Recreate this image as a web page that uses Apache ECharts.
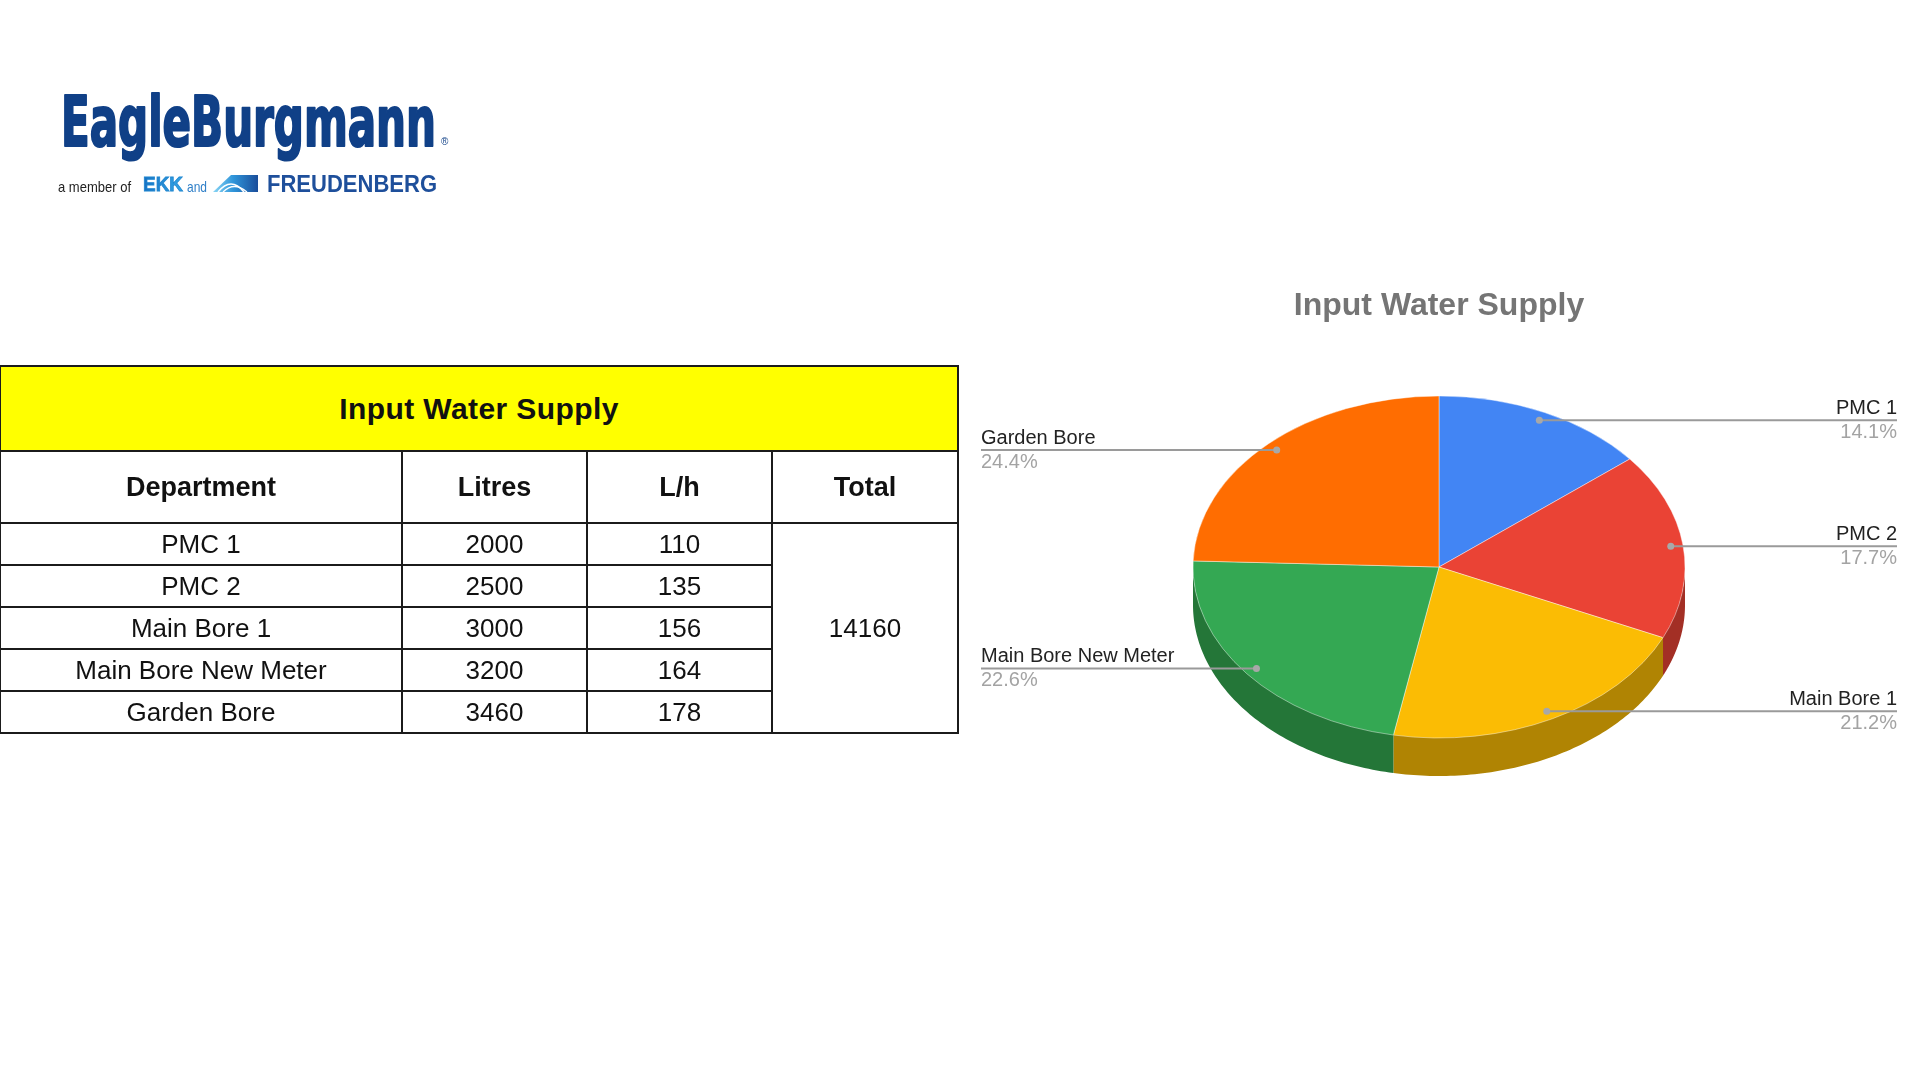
<!DOCTYPE html>
<html><head><meta charset="utf-8">
<script src="https://cdn.jsdelivr.net/npm/echarts@6/dist/echarts.min.js"></script>
<style>
html,body{margin:0;padding:0;background:#fff;width:1920px;height:1080px;overflow:hidden;font-family:"Liberation Sans",Arial,sans-serif;}
#chart{position:absolute;left:0;top:0;width:1920px;height:1080px;}
#logo{position:absolute;left:0;top:0;}
#tbl{position:absolute;left:-1px;top:365px;}
table{border-collapse:collapse;table-layout:fixed;color:#111;}
td,th{border:2px solid #1b1b1b;text-align:center;vertical-align:middle;padding:0;overflow:hidden;white-space:nowrap;}
th.title{background:#ffff00;font-size:30px;font-weight:bold;letter-spacing:0.4px;}
th.col{font-size:27px;font-weight:bold;}
td{font-size:26px;font-weight:normal;}
</style></head><body>
<div id="chart"></div>
<svg id="logo" width="520" height="220" xmlns="http://www.w3.org/2000/svg">
  <defs>
    <linearGradient id="fg" x1="0" y1="0" x2="1" y2="0">
      <stop offset="0" stop-color="#8ad6f5"/><stop offset="0.45" stop-color="#2f95da"/><stop offset="1" stop-color="#1a4d9a"/>
    </linearGradient>
    <linearGradient id="ekk" x1="0" y1="0" x2="1" y2="0">
      <stop offset="0" stop-color="#1670c2"/><stop offset="1" stop-color="#35a6e6"/>
    </linearGradient>
  </defs>
  <text x="61" y="146" textLength="375" lengthAdjust="spacingAndGlyphs" font-family="'Liberation Sans Narrow','DejaVu Sans Condensed','Liberation Sans',Arial" font-weight="bold" font-size="70" fill="#104087" stroke="#104087" stroke-width="2.2" stroke-linejoin="round">EagleBurgmann</text>
  <text x="441" y="145" font-size="10" fill="#104087" font-family="'Liberation Sans',Arial">®</text>
  <text x="58" y="192" textLength="73" lengthAdjust="spacingAndGlyphs" font-family="'Liberation Sans',Arial" font-size="15" fill="#222">a member of</text>
  <text x="143" y="191" textLength="40" lengthAdjust="spacingAndGlyphs" font-family="'Liberation Sans',Arial" font-weight="bold" font-size="21" fill="url(#ekk)" stroke="#1f86d0" stroke-width="0.8">EKK</text>
  <text x="187" y="192" textLength="20" lengthAdjust="spacingAndGlyphs" font-family="'Liberation Sans',Arial" font-size="15" fill="#2f7fc8">and</text>
  <polygon points="213,192 231,175 258,175 258,192" fill="url(#fg)"/>
  <path d="M218,192 Q231,176 244,192" stroke="#fff" stroke-width="1.6" fill="none"/>
  <path d="M223,192 Q234,181 247,192" stroke="#fff" stroke-width="1.2" fill="none"/>
  <text x="267" y="192" textLength="170" lengthAdjust="spacingAndGlyphs" font-family="'Liberation Sans',Arial" font-weight="bold" font-size="23.5" fill="#1e4f9b">FREUDENBERG</text>
</svg>
<div id="tbl"></div>
<script>
// ---- data ----
const departments = ['PMC 1', 'PMC 2', 'Main Bore 1', 'Main Bore New Meter', 'Garden Bore'];
const litres = [2000, 2500, 3000, 3200, 3460];
const litresPerHour = [110, 135, 156, 164, 178];
const tableTitle = 'Input Water Supply';
const chartTitle = 'Input Water Supply';
const columnHeaders = ['Department', 'Litres', 'L/h', 'Total'];
const sliceColors = ['#4285f4', '#ea4335', '#fbbc04', '#34a853', '#ff6d01'];
const sideColors = ['#2e5db0', '#a32f25', '#b08403', '#247638', '#b34c01'];
const total = litres.reduce((a, b) => a + b, 0);

// ---- table ----
(function buildTable() {
  const colW = [402, 185, 185, 186];
  const rowH = [42, 42, 42, 42, 42];
  const t = document.createElement('table');
  t.style.width = colW.reduce((a, b) => a + b, 0) + 'px';
  const cg = document.createElement('colgroup');
  colW.forEach(w => { const c = document.createElement('col'); c.style.width = w + 'px'; cg.appendChild(c); });
  t.appendChild(cg);
  let tr = document.createElement('tr'); tr.style.height = '85px';
  let th = document.createElement('th'); th.colSpan = 4; th.className = 'title'; th.textContent = tableTitle;
  tr.appendChild(th); t.appendChild(tr);
  tr = document.createElement('tr'); tr.style.height = '72px';
  columnHeaders.forEach(h => { const c = document.createElement('th'); c.className = 'col'; c.textContent = h; tr.appendChild(c); });
  t.appendChild(tr);
  departments.forEach((d, i) => {
    const r = document.createElement('tr'); r.style.height = rowH[i] + 'px';
    [d, litres[i], litresPerHour[i]].forEach(v => { const c = document.createElement('td'); c.textContent = v; r.appendChild(c); });
    if (i === 0) { const c = document.createElement('td'); c.rowSpan = departments.length; c.textContent = total; r.appendChild(c); }
    t.appendChild(r);
  });
  document.getElementById('tbl').appendChild(t);
})();

// ---- pie chart ----
const CX = 1439, CY = 567, RX = 246, RY = 171, DEPTH = 38;
const LEFT_EDGE = 981, RIGHT_EDGE = 1897;
function cum(i) { let s = 0; for (let k = 0; k < i; k++) s += litres[k]; return s; }
function angleOf(frac) { return -Math.PI / 2 + 2 * Math.PI * frac; }

function renderSlice(params, api) {
  const i = params.dataIndex;
  const v = api.value(0);
  const a1 = angleOf(cum(i) / total), a2 = angleOf((cum(i) + v) / total);
  const children = [];
  const s = Math.max(a1, 0), e = Math.min(a2, Math.PI);
  if (e > s) {
    const pts = []; const n = 80;
    for (let k = 0; k <= n; k++) { const t = s + (e - s) * k / n; pts.push([CX + RX * Math.cos(t), CY - 1.5 + RY * Math.sin(t)]); }
    for (let k = n; k >= 0; k--) { const t = s + (e - s) * k / n; pts.push([CX + RX * Math.cos(t), CY + DEPTH + RY * Math.sin(t)]); }
    children.push({ type: 'polygon', shape: { points: pts }, style: { fill: sideColors[i] } });
  }
  children.push({
    type: 'sector', x: CX, y: CY, scaleX: 1, scaleY: RY / RX,
    shape: { cx: 0, cy: 0, r: RX, r0: 0, startAngle: a1, endAngle: a2, clockwise: true },
    style: { fill: sliceColors[i], stroke: 'rgba(255,255,255,0.5)', lineWidth: 1, strokeNoScale: true }
  });
  return { type: 'group', children: children };
}

function renderLabel(params, api) {
  const i = params.dataIndex;
  const v = api.value(0);
  const mid = angleOf((cum(i) + v / 2) / total);
  const px = CX + RX * 0.95 * Math.cos(mid), py = CY + RY * 0.95 * Math.sin(mid);
  const right = Math.cos(mid) >= 0;
  const ex = right ? RIGHT_EDGE : LEFT_EDGE;
  const align = right ? 'right' : 'left';
  return {
    type: 'group', children: [
      { type: 'line', shape: { x1: px, y1: py, x2: ex, y2: py }, style: { stroke: '#9a9a9a', lineWidth: 2 } },
      { type: 'circle', shape: { cx: px, cy: py, r: 3.5 }, style: { fill: '#a8a8a8' } },
      { type: 'text', x: ex, y: py - 12, style: { text: departments[i], fill: '#222', fontSize: 20, fontFamily: '"Liberation Sans", Arial', align: align, verticalAlign: 'middle' } },
      { type: 'text', x: ex, y: py + 12, style: { text: (v / total * 100).toFixed(1) + '%', fill: '#a3a3a3', fontSize: 20, fontFamily: '"Liberation Sans", Arial', align: align, verticalAlign: 'middle' } }
    ]
  };
}

const chart = echarts.init(document.getElementById('chart'), null, { renderer: 'canvas' });
const seriesData = litres.map((v, i) => ({ name: departments[i], value: [v] }));
chart.setOption({
  animation: false,
  title: {
    text: chartTitle, left: 1434, top: 285, textAlign: 'center',
    textStyle: { color: '#757575', fontSize: 32, fontWeight: 'bold', fontFamily: '"Liberation Sans", Arial' }
  },
  series: [
    { type: 'custom', coordinateSystem: 'none', renderItem: renderSlice, data: seriesData, z: 2, silent: true },
    { type: 'custom', coordinateSystem: 'none', renderItem: renderLabel, data: seriesData, z: 5, silent: true }
  ]
});
</script>
</body></html>
